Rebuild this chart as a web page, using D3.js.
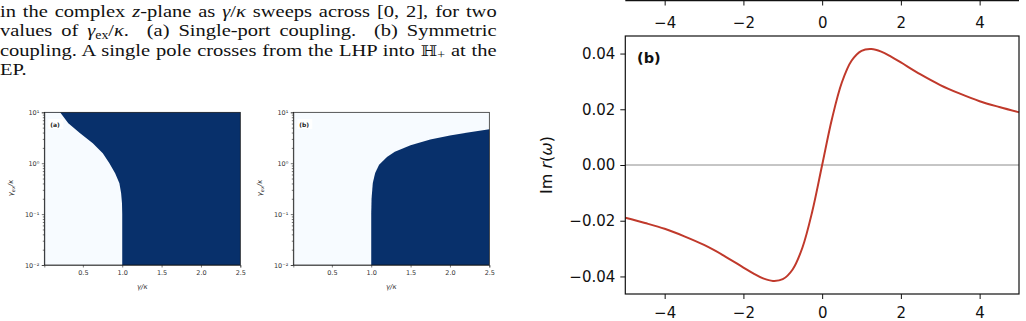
<!DOCTYPE html>
<html>
<head>
<meta charset="utf-8">
<script src="https://cdn.jsdelivr.net/npm/d3@7"></script>
<style>
  body { margin: 0; background: #fff; }
  svg text { font-family: "DejaVu Sans", sans-serif; }
  .cap { font-family: "Liberation Serif", serif; font-size: 17px; fill: #111; }
  .hm .tick text { font-size: 6.5px; fill: #333; }
  .hm .tick line, .hm .domain { stroke: #222; stroke-width: 0.6px; }
  .rp .tick text { font-size: 15px; fill: #111; }
  .rp .tick line { stroke: #111; stroke-width: 1px; }
  .rp .domain { stroke: none; }
</style>
</head>
<body>
<script>
var width = 1026, height = 321;

// caption text (segments: plain, italic, subscript)
var captionLines = [
  [["in the complex "], ["z", "i"], ["-plane as "], ["γ", "i"], ["/"], ["κ", "i"], [" sweeps across [0, 2], for two"]],
  [["values of "], ["γ", "i"], ["ex", "sub"], ["/"], ["κ", "i"], [".  (a) Single-port coupling.  (b) Symmetric"]],
  [["coupling. A single pole crosses from the LHP into "], ["ℍ", "bb"], ["+", "sub"], [" at the"]],
  [["EP."]]
];

// heatmap axes
var gammaTicks = [0.5, 1.0, 1.5, 2.0, 2.5];
var gexTicks = [0.01, 0.1, 1, 10];
var gexTickLabels = ["10⁻²", "10⁻¹", "10⁰", "10¹"];

// (a) single-port: boundary of the light region (gamma_ex, gamma)
var aGex =   [10,   6.1,   3.87,  2.47,  1.57,  1.0,   0.637, 0.405, 0.258, 0.164, 0.1, 0.01];
var aGamma = [0.21, 0.315, 0.465, 0.626, 0.753, 0.837, 0.91,  0.964, 0.986, 0.997, 1.0, 1.0];

// (b) symmetric: boundary of the dark region
var bGamma = [1.0,  1.0, 1.004, 1.02, 1.05, 1.1,  1.2,  1.3,  1.5,  1.75, 2.0, 2.25, 2.5];
var bGex =   [0.01, 0.1, 0.2,   0.41, 0.64, 0.93, 1.33, 1.68, 2.26, 2.93, 3.5, 4.06, 4.62];

// right panel: Im r(omega)
var omega = [-5, -4.5, -4, -3.5, -3, -2.5, -2, -1.75, -1.5, -1.25, -1, -0.75, -0.5, -0.25, 0,
             0.25, 0.5, 0.75, 1, 1.25, 1.5, 1.75, 2, 2.5, 3, 3.5, 4, 4.5, 5];
var imR = [-0.0189, -0.0208, -0.0229, -0.0256, -0.0287, -0.0325, -0.0368, -0.0389, -0.0407, -0.0416, -0.0410, -0.0375, -0.0296, -0.0166, 0,
           0.0166, 0.0296, 0.0375, 0.0410, 0.0416, 0.0407, 0.0389, 0.0368, 0.0325, 0.0287, 0.0256, 0.0229, 0.0208, 0.0189];
var omegaTicks = [-4, -2, 0, 2, 4];
var imTicks = [-0.04, -0.02, 0, 0.02, 0.04];

var svg = d3.select("body").append("svg")
    .attr("width", width)
    .attr("height", height);

// ---- caption ----
var capBase = [17, 36.5, 56, 75.5];
var capNodes = captionLines.map(function (segs, i) {
  var t = svg.append("text").attr("class", "cap")
      .attr("x", 0).attr("y", capBase[i])
      .attr("xml:space", "preserve");
  segs.forEach(function (s) {
    var ts = t.append("tspan").text(s[0]);
    if (s[1] === "i") ts.style("font-style", "italic");
    if (s[1] === "bb") ts.style("font-family", "DejaVu Serif").style("font-size", "14.5px");
    if (s[1] === "sub") ts.style("font-size", "11.5px").attr("baseline-shift", "-3");
  });
  return t;
});
// widen the Times-like face toward the reference's wider serif, then justify
var capW = 497;
var natural = capNodes.map(function (t) { return t.node().getComputedTextLength(); });
var sx = Math.min(1.25, 488 / d3.max(natural.slice(0, 3)));
capNodes.forEach(function (t, i) {
  t.attr("transform", "scale(" + sx + ",1)");
  if (i < 3) {
    var gaps = t.text().split(" ").length - 1;
    t.attr("word-spacing", (capW / sx - natural[i]) / gaps);
  }
});

// ---- heatmaps ----
var light = "#f7fbff", dark = "#08306b";

function heatPanel(left, label, draw) {
  var x = d3.scaleLinear().domain([0.01, 2.5]).range([left, left + 196]);
  var y = d3.scaleLog().domain([0.01, 10]).range([265, 112.3]);
  var g = svg.append("g").attr("class", "hm");
  draw(g, x, y);

  g.append("rect")
      .attr("x", x.range()[0]).attr("y", y.range()[1])
      .attr("width", x.range()[1] - x.range()[0])
      .attr("height", y.range()[0] - y.range()[1])
      .attr("fill", "none").attr("stroke", "#111").attr("stroke-width", 0.7);

  g.append("g").attr("transform", "translate(0,265)")
      .call(d3.axisBottom(x).tickValues(gammaTicks).tickSize(2.5).tickPadding(2.5)
        .tickFormat(d3.format(".1f")));

  var minor = [];
  [0.01, 0.1, 1].forEach(function (d) {
    for (var k = 2; k <= 9; k++) minor.push(d * k);
  });
  g.append("g").attr("transform", "translate(" + left + ",0)")
      .call(d3.axisLeft(y).tickValues(minor).tickSize(1.5).tickFormat(""))
      .select(".domain").remove();
  g.append("g").attr("transform", "translate(" + left + ",0)")
      .call(d3.axisLeft(y).tickValues(gexTicks).tickSize(2.5).tickPadding(2.5)
        .tickFormat(function (d, i) { return gexTickLabels[i]; }));

  g.append("text").attr("x", left + 98).attr("y", 289)
      .attr("text-anchor", "middle").attr("font-size", 7).attr("fill", "#333")
      .attr("font-style", "italic").text("γ/κ");

  var yl = g.append("text")
      .attr("transform", "translate(" + (left - 31) + ",188) rotate(-90)")
      .attr("text-anchor", "middle").attr("font-size", 7).attr("fill", "#333");
  yl.append("tspan").attr("font-style", "italic").text("γ");
  yl.append("tspan").attr("font-size", 5).attr("baseline-shift", "-1.5").attr("font-style", "italic").text("ex");
  yl.append("tspan").attr("font-style", "italic").text("/κ");

  g.append("rect").attr("x", left + 4).attr("y", 119).attr("width", 15).attr("height", 10)
      .attr("fill", "#fff").attr("opacity", 0.9);
  g.append("text").attr("x", left + 6).attr("y", 126.5)
      .attr("font-size", 6).attr("font-weight", "bold").attr("fill", "#222").text(label);
}

heatPanel(44.3, "(a)", function (g, x, y) {
  g.append("rect")
      .attr("x", x(0.01)).attr("y", y(10))
      .attr("width", x(2.5) - x(0.01)).attr("height", y(0.01) - y(10))
      .attr("fill", dark);
  var pts = aGex.map(function (d, i) { return [aGamma[i], d]; });
  pts.push([0.01, 0.01], [0.01, 10]);
  g.append("path")
      .attr("d", d3.line().x(function (d) { return x(d[0]); }).y(function (d) { return y(d[1]); })(pts) + "Z")
      .attr("fill", light);
});

heatPanel(293.3, "(b)", function (g, x, y) {
  g.append("rect")
      .attr("x", x(0.01)).attr("y", y(10))
      .attr("width", x(2.5) - x(0.01)).attr("height", y(0.01) - y(10))
      .attr("fill", light);
  var pts = bGex.map(function (d, i) { return [bGamma[i], d]; });
  pts.push([2.5, 0.01]);
  g.append("path")
      .attr("d", d3.line().x(function (d) { return x(d[0]); }).y(function (d) { return y(d[1]); })(pts) + "Z")
      .attr("fill", dark);
});

// ---- right panel ----
var rx = d3.scaleLinear().domain([-5, 5]).range([625.3, 1019]);
var ry = d3.scaleLinear().domain([-0.0463, 0.0463]).range([294, 36]);
var minusFmt = function (d) { return d3.format(".0f")(d).replace("-", "−"); };
var rp = svg.append("g").attr("class", "rp");

// bottom edge of the panel above
rp.append("g").attr("transform", "translate(0,0.5)")
    .call(d3.axisBottom(rx).tickValues(omegaTicks).tickSize(5).tickPadding(12).tickFormat(minusFmt));
rp.append("line").attr("x1", 625.3).attr("x2", 1019).attr("y1", 0.5).attr("y2", 0.5)
    .attr("stroke", "#111").attr("stroke-width", 1.4);

rp.append("line")
    .attr("x1", rx(-5)).attr("x2", rx(5)).attr("y1", ry(0)).attr("y2", ry(0))
    .attr("stroke", "#7f7f7f").attr("stroke-width", 0.9);

rp.append("path")
    .datum(omega.map(function (d, i) { return [d, imR[i]]; }))
    .attr("d", d3.line().curve(d3.curveCatmullRom)
      .x(function (d) { return rx(d[0]); }).y(function (d) { return ry(d[1]); }))
    .attr("fill", "none").attr("stroke", "#c0392b").attr("stroke-width", 2);

rp.append("rect").attr("x", 625.3).attr("y", 36).attr("width", 1019 - 625.3).attr("height", 258)
    .attr("fill", "none").attr("stroke", "#111").attr("stroke-width", 1.2);

rp.append("g").attr("transform", "translate(0,294)")
    .call(d3.axisBottom(rx).tickValues(omegaTicks).tickSize(5).tickPadding(8).tickFormat(minusFmt));
rp.append("g").attr("transform", "translate(625.3,0)")
    .call(d3.axisLeft(ry).tickValues(imTicks).tickSize(5).tickPadding(5)
      .tickFormat(function (d) { return d3.format(".2f")(d).replace("-", "−"); }));

var ylab = rp.append("text")
    .attr("transform", "translate(552,165) rotate(-90)")
    .attr("text-anchor", "middle").attr("font-size", 16).attr("fill", "#111");
ylab.append("tspan").text("Im ");
ylab.append("tspan").attr("font-style", "italic").text("r");
ylab.append("tspan").text("(");
ylab.append("tspan").attr("font-style", "italic").text("ω");
ylab.append("tspan").text(")");

rp.append("text").attr("x", 637).attr("y", 63)
    .attr("font-size", 14.5).attr("font-weight", "bold").attr("fill", "#111").text("(b)");
</script>
</body>
</html>
